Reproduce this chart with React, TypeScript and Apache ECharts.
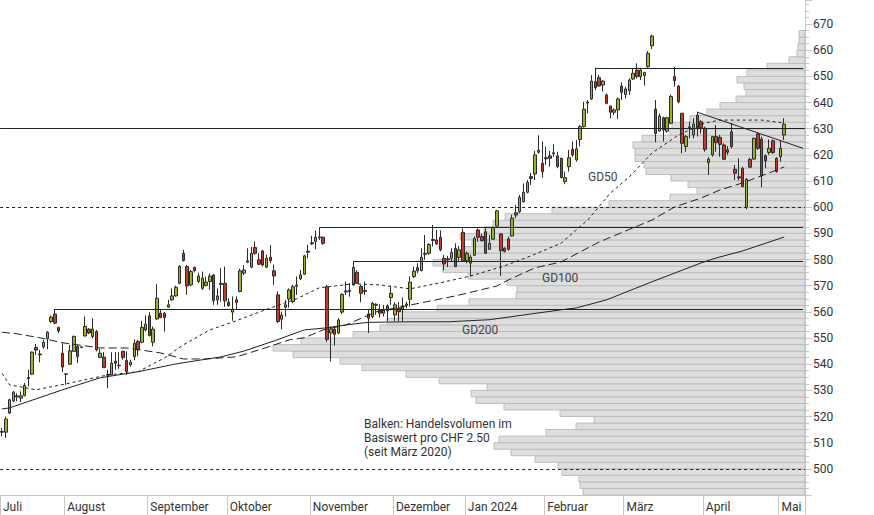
import React, { useEffect, useRef } from "react";
import * as echarts from "echarts";

const FONT = "Roboto, 'Liberation Sans', sans-serif";

// Month labels and number of daily slots per month (May: 2 trading days + 5 empty slots)
const monthNames = ["Juli", "August", "September", "Oktober", "November", "Dezember", "Jan 2024", "Februar", "März", "April", "Mai"];
const monthSlots = [17, 22, 21, 22, 22, 19, 21, 21, 21, 20, 7];

// Daily candles: [open, high, low, close]
const candles: number[][] = [
  [514.3, 515.6, 512.4, 514.0], [514.0, 520.0, 511.8, 519.0], [521.3, 526.8, 521.0, 526.4], [526.0, 529.8, 525.5, 529.3],
  [527.9, 528.9, 525.8, 527.5], [527.0, 529.6, 525.5, 527.9], [528.0, 532.8, 527.7, 531.9], [534.5, 537.9, 531.5, 534.9],
  [536.2, 544.9, 535.9, 544.6], [546.4, 547.7, 543.6, 545.4], [543.9, 545.5, 540.7, 543.6], [546.6, 549.3, 545.9, 548.4],
  [549.7, 552.7, 545.7, 552.2], [556.3, 558.6, 555.7, 558.0], [559.2, 561.1, 555.3, 555.7], [554.0, 554.4, 551.9, 552.7],
  [544.2, 548.0, 537.0, 538.9], [536.3, 536.5, 532.1, 536.1], [540.0, 547.4, 539.7, 545.1], [544.9, 551.0, 544.6, 550.6],
  [546.8, 547.4, 540.4, 542.9], [546.6, 546.8, 546.1, 546.4], [550.8, 558.2, 550.6, 554.4], [553.4, 553.8, 551.5, 551.9],
  [550.6, 557.6, 549.9, 553.4], [552.5, 553.1, 544.9, 545.5], [542.6, 545.9, 542.3, 544.2], [542.7, 544.6, 538.5, 538.7],
  [536.1, 537.9, 530.8, 535.8], [535.9, 544.6, 535.7, 540.4], [541.2, 544.6, 537.9, 540.4], [539.6, 544.5, 538.2, 539.4],
  [544.9, 545.1, 541.7, 542.6], [541.4, 544.9, 535.9, 537.2], [539.8, 541.7, 539.1, 540.8], [542.9, 549.5, 541.5, 548.0],
  [548.7, 549.3, 543.0, 545.5], [548.4, 556.6, 548.0, 554.1], [553.1, 558.6, 552.5, 555.3], [558.5, 559.9, 550.6, 551.0],
  [548.4, 554.4, 546.8, 553.4], [557.3, 570.6, 556.9, 565.2], [559.5, 560.8, 557.6, 557.8], [559.5, 559.9, 552.5, 557.8],
  [561.8, 564.6, 561.6, 562.7], [564.6, 569.0, 564.2, 566.1], [566.1, 570.0, 565.8, 569.4], [570.9, 577.9, 570.6, 577.4],
  [582.4, 583.7, 579.2, 579.6], [577.3, 577.9, 566.5, 569.9], [570.3, 576.0, 569.7, 575.4], [577.0, 577.3, 575.1, 575.8],
  [571.6, 575.0, 571.0, 573.7], [569.0, 575.4, 568.4, 572.9], [570.1, 573.5, 569.7, 571.4], [571.6, 574.7, 568.4, 573.7],
  [574.1, 574.4, 562.7, 564.3], [564.6, 569.0, 562.7, 566.1], [570.9, 576.7, 563.9, 570.5], [570.9, 577.3, 562.0, 564.2],
  [563.7, 565.2, 562.0, 562.4], [559.9, 565.9, 556.6, 561.0], [564.6, 565.9, 560.8, 563.6], [567.8, 576.4, 567.5, 575.7],
  [574.8, 577.9, 574.1, 576.0], [579.5, 584.3, 578.6, 579.0], [577.1, 584.9, 576.7, 582.4], [584.6, 586.9, 581.8, 582.4],
  [579.9, 582.4, 577.9, 578.2], [583.3, 583.7, 577.3, 577.9], [577.1, 581.8, 576.7, 580.5], [580.9, 585.6, 578.6, 579.6],
  [575.7, 578.0, 570.3, 573.7], [566.5, 567.8, 555.7, 556.3], [557.2, 560.1, 553.4, 558.8], [561.8, 564.6, 558.2, 562.7],
  [564.9, 569.0, 561.6, 568.4], [563.9, 570.3, 563.3, 569.6], [570.2, 573.5, 566.5, 569.8], [572.6, 576.0, 572.2, 574.1],
  [574.4, 581.8, 574.1, 581.4], [583.2, 585.6, 580.5, 582.8], [586.4, 589.1, 585.6, 586.0], [586.9, 591.1, 583.9, 588.5],
  [588.3, 592.3, 587.5, 588.7], [588.5, 588.8, 585.6, 586.2], [569.6, 570.3, 548.5, 549.5], [551.9, 554.4, 541.0, 553.5],
  [553.4, 554.4, 547.1, 551.4], [551.9, 557.6, 551.5, 556.9], [559.9, 567.1, 559.1, 566.7], [567.6, 571.6, 566.5, 568.0],
  [568.2, 571.0, 565.8, 567.8], [570.3, 579.5, 570.0, 577.0], [575.1, 576.0, 570.7, 570.9], [569.7, 570.3, 563.7, 567.1],
  [567.8, 571.6, 566.5, 568.2], [559.2, 560.7, 551.9, 557.6], [558.2, 563.7, 557.6, 563.3], [562.5, 563.3, 558.9, 562.9],
  [560.7, 562.9, 557.8, 559.5], [559.5, 562.7, 558.2, 560.7], [562.3, 562.9, 556.5, 560.4], [565.5, 570.0, 562.7, 567.1],
  [558.8, 563.7, 556.5, 562.7], [561.4, 563.7, 556.3, 560.1], [561.0, 565.5, 556.3, 562.3], [562.5, 563.9, 561.4, 563.0],
  [564.8, 573.5, 562.0, 571.3], [573.5, 577.3, 572.9, 575.6], [576.9, 578.6, 574.8, 575.7], [575.8, 584.3, 575.4, 580.9],
  [582.4, 589.4, 579.9, 582.0], [582.4, 586.2, 581.8, 585.8], [587.7, 593.2, 585.0, 587.3], [587.5, 591.3, 585.6, 586.0],
  [588.5, 591.1, 583.1, 583.7], [580.4, 581.8, 575.8, 578.3], [580.3, 581.4, 577.1, 579.9], [580.5, 584.3, 579.2, 582.7],
  [584.3, 586.2, 577.1, 577.3], [580.8, 585.2, 579.5, 583.7], [590.4, 591.9, 579.2, 579.5], [579.5, 583.1, 578.6, 582.4],
  [578.6, 581.8, 573.5, 580.9], [581.6, 588.8, 581.4, 588.0], [591.3, 591.9, 586.8, 588.5], [588.8, 589.8, 586.9, 587.2],
  [590.6, 592.0, 582.2, 582.4], [583.9, 589.4, 583.7, 586.2], [587.8, 592.6, 587.5, 592.2], [592.8, 599.0, 592.6, 598.6],
  [589.8, 590.1, 573.7, 583.4], [584.3, 584.7, 582.7, 583.1], [587.9, 588.8, 583.4, 583.9], [589.0, 597.1, 588.8, 595.8],
  [597.9, 600.9, 595.8, 597.0], [598.3, 604.7, 597.7, 603.8], [602.1, 609.1, 601.8, 605.7], [605.7, 610.4, 605.3, 609.5],
  [611.7, 613.0, 608.5, 611.0], [612.7, 621.5, 610.4, 620.0], [621.0, 627.5, 620.5, 621.8], [616.8, 625.1, 611.3, 613.6],
  [618.9, 623.2, 616.2, 618.5], [619.6, 621.5, 615.5, 618.7], [620.4, 624.0, 619.3, 620.8], [619.6, 621.2, 614.9, 615.5],
  [618.7, 618.9, 611.1, 611.3], [609.8, 613.6, 608.8, 611.3], [615.5, 621.9, 613.6, 618.9], [622.1, 625.1, 619.3, 620.0],
  [618.1, 625.7, 617.4, 622.3], [625.9, 631.4, 623.2, 630.8], [630.8, 640.3, 630.4, 637.5], [639.8, 641.0, 635.9, 640.2],
  [641.4, 650.5, 641.0, 648.2], [648.0, 653.3, 644.8, 645.7], [649.5, 650.5, 646.1, 646.3], [646.7, 648.6, 644.2, 648.2],
  [642.9, 643.5, 639.3, 639.7], [638.7, 638.7, 634.0, 636.3], [636.3, 637.8, 635.2, 637.2], [637.2, 641.9, 633.7, 641.4],
  [646.3, 647.7, 641.0, 643.9], [643.1, 646.1, 641.6, 645.2], [644.5, 649.3, 642.9, 648.6], [649.0, 653.1, 648.6, 651.2],
  [652.4, 655.0, 649.3, 649.9], [649.9, 653.3, 648.6, 652.4], [650.3, 651.8, 646.5, 651.5], [653.7, 659.7, 653.3, 658.8],
  [661.7, 666.0, 660.5, 665.4], [637.5, 641.0, 624.8, 628.2], [629.1, 635.9, 628.9, 634.9], [634.2, 634.6, 625.1, 629.5],
  [629.1, 634.6, 628.5, 634.2], [632.1, 643.1, 631.7, 642.3], [649.9, 653.7, 646.1, 648.4], [646.3, 646.7, 639.7, 640.3],
  [635.9, 636.1, 620.6, 624.4], [623.2, 627.6, 621.2, 627.0], [630.3, 632.7, 626.3, 630.7], [627.6, 634.0, 626.3, 631.8],
  [635.2, 636.5, 627.0, 630.2], [632.7, 633.3, 628.2, 630.4], [630.2, 630.8, 621.2, 622.1], [617.0, 619.1, 612.3, 618.4],
  [620.0, 627.2, 619.3, 627.0], [627.0, 631.4, 621.2, 624.7], [626.7, 627.6, 619.3, 624.0], [623.8, 624.4, 618.1, 618.3],
  [621.9, 623.4, 620.0, 621.0], [628.8, 632.1, 622.5, 623.2], [614.5, 616.1, 610.4, 613.0], [611.6, 618.7, 610.2, 611.2],
  [614.9, 615.5, 607.6, 607.9], [600.0, 611.1, 599.2, 610.7], [618.3, 618.9, 614.9, 615.3], [618.4, 626.7, 618.1, 626.3],
  [628.0, 628.5, 621.9, 622.5], [626.0, 627.0, 607.6, 612.0], [619.6, 620.2, 614.9, 617.7], [620.9, 625.9, 620.0, 622.5],
  [625.4, 625.9, 620.4, 620.9], [618.7, 619.1, 613.2, 613.6], [619.3, 625.7, 617.4, 622.5], [627.6, 634.0, 625.7, 631.7],
];

// Moving averages read at sample days: [day index, value]
const gd50: number[][] = [
  [0, 536.5], [2, 532.1], [9, 530.2], [17, 532.5], [28, 535.9], [36, 537.1], [43, 542.4], [48, 547.4], [55, 553.1],
  [62, 556.6], [69, 560.4], [78, 565.0], [84, 569.2], [93, 570.7], [100, 570.3], [108, 568.8], [116, 571.1], [124, 573.7],
  [133, 577.6], [140, 581.4], [148, 586.3], [155, 595.1], [161, 605.4], [166, 611.6], [172, 620.7], [179, 627.6],
  [186, 632.2], [190, 633.3], [201, 633.3], [207, 632.2],
];
const gd100: number[][] = [
  [0, 552.2], [4, 551.6], [10, 550.1], [16, 548.2], [26, 546.2], [33, 546.2], [42, 544.3], [48, 542.0], [54, 542.0],
  [62, 542.8], [69, 545.9], [76, 549.3], [80, 550.1], [85, 553.1], [91, 555.0], [99, 560.0], [107, 562.3], [120, 566.1],
  [131, 569.9], [134, 572.2], [141, 576.8], [148, 579.1], [158, 586.7], [172, 595.1], [178, 600.1], [185, 603.5],
  [190, 606.6], [196, 609.3], [203, 613.1], [207, 615.4],
];
const gd200: number[][] = [
  [0, 522.9], [2, 523.3], [16, 530.2], [26, 534.8], [36, 537.1], [46, 540.1], [53, 541.7], [58, 542.8], [64, 545.0],
  [72, 548.9], [80, 553.1], [86, 553.9], [91, 555.0], [97, 556.0], [108, 556.2], [118, 556.2], [129, 557.0], [140, 559.2],
  [148, 560.8], [152, 561.5], [160, 564.6], [172, 571.5], [185, 578.7], [189, 580.6], [196, 583.3], [207, 588.6],
];

// Volume profile per CHF 2.50 price band, starting at 490
const profileStart = 490;
const profileStep = 2.5;
const profileVolumes = [
  222, 225, 226, 243, 247, 270, 294, 311, 306, 259, 229, 211, 245, 301, 329, 334, 318, 366, 399, 443,
  465, 512, 532, 504, 452, 425, 418, 407, 368, 336, 289, 288, 298, 337, 362, 372, 342, 342, 333, 345,
  321, 312, 300, 253, 196, 135, 108, 117, 134, 159, 161, 170, 170, 172, 163, 135, 133, 115, 98, 85,
  69, 59, 61, 68, 58, 38, 16, 8, 7, 6, 6,
];

// Horizontal levels
const fullLevels = [630.2];
const dashedLevels = [600, 500];
const rayLevels: number[][] = [[14, 561.1], [84, 592.3], [93, 579.5], [157, 653.3]]; // [start day, price]
const trendLine: number[][] = [[184, 636.3], [212, 622.5]];

const yMin = 490;
const yMax = 679.2;

export default function App() {
  const ref = useRef<HTMLDivElement>(null);
  useEffect(() => {
    if (!ref.current) return;
    const chart = echarts.init(ref.current, null, { renderer: "svg" });

    const categories: string[] = [];
    const monthLabel: string[] = [];
    monthNames.forEach((m, mi) => {
      for (let d = 0; d < monthSlots[mi]; d++) {
        categories.push(`${m} ${d + 1}`);
        monthLabel.push(d === 0 ? m : "");
      }
    });
    const lastIdx = categories.length - 1;
    const isMonthStart = (i: number) => monthLabel[i] !== "";

    const candleData = candles.map((c) => [c[0], c[3], c[2], c[1]]);
    const lineColor = "#222";

    const markData: any[] = [];
    fullLevels.forEach((v) => markData.push({ yAxis: v, lineStyle: { type: "solid", color: lineColor, width: 1 } }));
    dashedLevels.forEach((v) => markData.push({ yAxis: v, lineStyle: { type: [3, 3], color: lineColor, width: 1 } }));
    rayLevels.forEach(([i, v]) =>
      markData.push([
        { coord: [categories[i], v], lineStyle: { type: "solid", color: lineColor, width: 1 } },
        { coord: [categories[lastIdx], v] },
      ])
    );
    markData.push([
      { coord: [categories[trendLine[0][0]], trendLine[0][1]], lineStyle: { type: "solid", color: lineColor, width: 1 } },
      { coord: [categories[trendLine[1][0]], trendLine[1][1]] },
    ]);

    const maSeries = (name: string, data: number[][], type: any) => ({
      name,
      type: "line",
      xAxisIndex: 0,
      yAxisIndex: 0,
      data,
      connectNulls: true,
      showSymbol: false,
      symbol: "none",
      silent: true,
      z: 4,
      lineStyle: { color: lineColor, width: 1, type },
    });

    chart.setOption({
      animation: false,
      backgroundColor: "#ffffff",
      textStyle: { fontFamily: FONT },
      grid: { left: 0, right: 69, top: 0, bottom: 20, containLabel: false },
      xAxis: [
        {
          type: "category",
          data: categories,
          boundaryGap: true,
          axisLine: { show: true, lineStyle: { color: "#c8c8c8" } },
          axisTick: { show: true, interval: (i: number) => isMonthStart(i), length: 20, lineStyle: { color: "#c8c8c8" } },
          axisLabel: {
            interval: (i: number) => isMonthStart(i),
            formatter: (_v: string, i: number) => monthLabel[i],
            align: "left",
            margin: 6,
            padding: [0, 0, 0, 1],
            color: "#333",
            fontSize: 12,
            fontFamily: FONT,
          },
          splitLine: { show: false },
        },
        { type: "value", min: 0, max: 805, inverse: true, show: false, position: "top" },
      ],
      yAxis: [
        {
          type: "value",
          position: "right",
          min: yMin,
          max: yMax,
          interval: 10,
          axisLine: { show: true, lineStyle: { color: "#c8c8c8" } },
          axisTick: { show: true, length: 7, lineStyle: { color: "#c8c8c8" } },
          minorTick: { show: true, splitNumber: 4, length: 4, lineStyle: { color: "#c8c8c8" } },
          axisLabel: {
            showMinLabel: false,
            showMaxLabel: false,
            formatter: (v: number) => (v >= 500 && v <= 670 && Math.abs(v % 10) < 1e-6 ? String(Math.round(v)) : ""),
            margin: 8,
            color: "#333",
            fontSize: 12,
            fontFamily: FONT,
          },
          splitLine: { show: false },
          minorSplitLine: { show: false },
        },
      ],
      series: [
        {
          name: "Volumen",
          type: "custom",
          xAxisIndex: 1,
          yAxisIndex: 0,
          silent: true,
          z: 1,
          encode: { x: 1, y: 0 },
          data: profileVolumes.map((v, i) => [profileStart + i * profileStep, v]),
          renderItem: (_params: any, api: any) => {
            const low = api.value(0);
            const vol = api.value(1);
            const a = api.coord([vol, low + profileStep]);
            const b = api.coord([0, low]);
            return {
              type: "rect",
              shape: { x: a[0], y: a[1], width: b[0] - a[0], height: b[1] - a[1] },
              style: { fill: "#dedede", stroke: "#bdbdbd", lineWidth: 1 },
            };
          },
        },
        {
          name: "Kurs",
          type: "candlestick",
          xAxisIndex: 0,
          yAxisIndex: 0,
          data: candleData,
          barWidth: 3,
          z: 3,
          itemStyle: {
            color: "#9ab51f",
            color0: "#c43a2b",
            borderColor: "#2b2b2b",
            borderColor0: "#2b2b2b",
            borderWidth: 1,
          },
          markLine: {
            silent: true,
            symbol: ["none", "none"],
            label: { show: false },
            animation: false,
            data: markData,
          },
        },
        maSeries("GD50", gd50, [3, 3]),
        maSeries("GD100", gd100, [8, 4]),
        maSeries("GD200", gd200, "solid"),
      ],
      graphic: [
        { type: "text", x: 588, y: 171, z: 10, style: { text: "GD50", fill: "#444", fontSize: 12, fontFamily: FONT } },
        { type: "text", x: 542, y: 272, z: 10, style: { text: "GD100", fill: "#444", fontSize: 12, fontFamily: FONT } },
        { type: "text", x: 462, y: 324, z: 10, style: { text: "GD200", fill: "#444", fontSize: 12, fontFamily: FONT } },
        {
          type: "text",
          x: 364,
          y: 417,
          z: 10,
          style: {
            text: "Balken: Handelsvolumen im\nBasiswert pro CHF 2.50\n(seit März 2020)",
            fill: "#333",
            fontSize: 12,
            lineHeight: 14,
            fontFamily: FONT,
          },
        },
      ],
    });

    return () => chart.dispose();
  }, []);

  return <div ref={ref} style={{ position: "fixed", left: 0, top: 0, width: 874, height: 515, background: "#fff" }} />;
}
